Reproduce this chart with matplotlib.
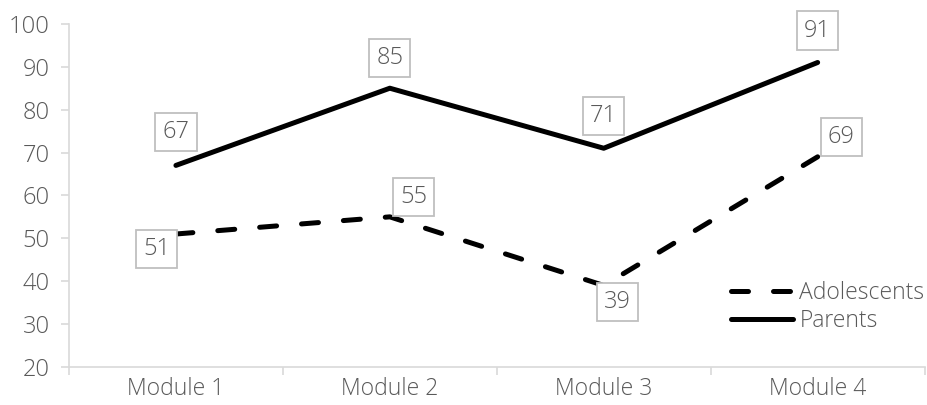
import matplotlib.pyplot as plt
import numpy as np

plt.rcParams['font.family'] = ['Open Sans', 'DejaVu Sans']
plt.rcParams['font.weight'] = 'light'

modules = ['Module 1', 'Module 2', 'Module 3', 'Module 4']
adolescents = [51, 55, 39, 69]
parents = [67, 85, 71, 91]

# label offsets in points (dx, dy)
adol_offsets = [(-14, -11), (17, 14), (10, -12), (17, 14)]
par_offsets = [(0, 24), (0, 22), (0, 23), (0, 23)]

grey = '#595959'
axis_grey = '#d9d9d9'

fig = plt.figure(figsize=(9.27, 4.05), dpi=100)
ax = fig.add_axes([0.0744, 0.094, 0.923, 0.847])

x = np.arange(len(modules))
ax.plot(x, adolescents, color='black', lw=3.6, ls=(0, (3.4, 5)),
        dash_capstyle='round', label='Adolescents')
ax.plot(x, parents, color='black', lw=3.6, solid_capstyle='round',
        label='Parents')

box = dict(boxstyle='square,pad=0.3', fc='white', ec='#bfbfbf', lw=1.3)
for xi, v, off in zip(x, adolescents, adol_offsets):
    ax.annotate(str(v), (xi, v), xytext=off, textcoords='offset points',
                ha='center', va='center', fontsize=17, color=grey, bbox=box)
for xi, v, off in zip(x, parents, par_offsets):
    ax.annotate(str(v), (xi, v), xytext=off, textcoords='offset points',
                ha='center', va='center', fontsize=17, color=grey, bbox=box)

ax.set_xlim(-0.5, 3.5)
ax.set_ylim(20, 100)
ax.set_yticks(range(20, 101, 10))
ax.set_xticks(x)
ax.set_xticklabels(modules)
ax.set_xticks(np.arange(-0.5, 4, 1), minor=True)
ax.tick_params(axis='x', which='major', length=0, pad=7, labelsize=16.5, labelcolor=grey)
ax.tick_params(axis='x', which='minor', length=6, color=axis_grey, width=1.2)
ax.tick_params(axis='y', length=6, color=axis_grey, width=1.2, pad=8,
               labelsize=17, labelcolor=grey)

for s in ['top', 'right']:
    ax.spines[s].set_visible(False)
for s in ['left', 'bottom']:
    ax.spines[s].set_color(axis_grey)
    ax.spines[s].set_linewidth(1.2)

ax.legend(loc='lower right', bbox_to_anchor=(1.0, 0.1), frameon=False,
          borderpad=0, borderaxespad=0, fontsize=16.5, labelcolor=grey,
          handlelength=2.7, handletextpad=0.3, labelspacing=0.15)

fig.savefig('out.png', dpi=100)
